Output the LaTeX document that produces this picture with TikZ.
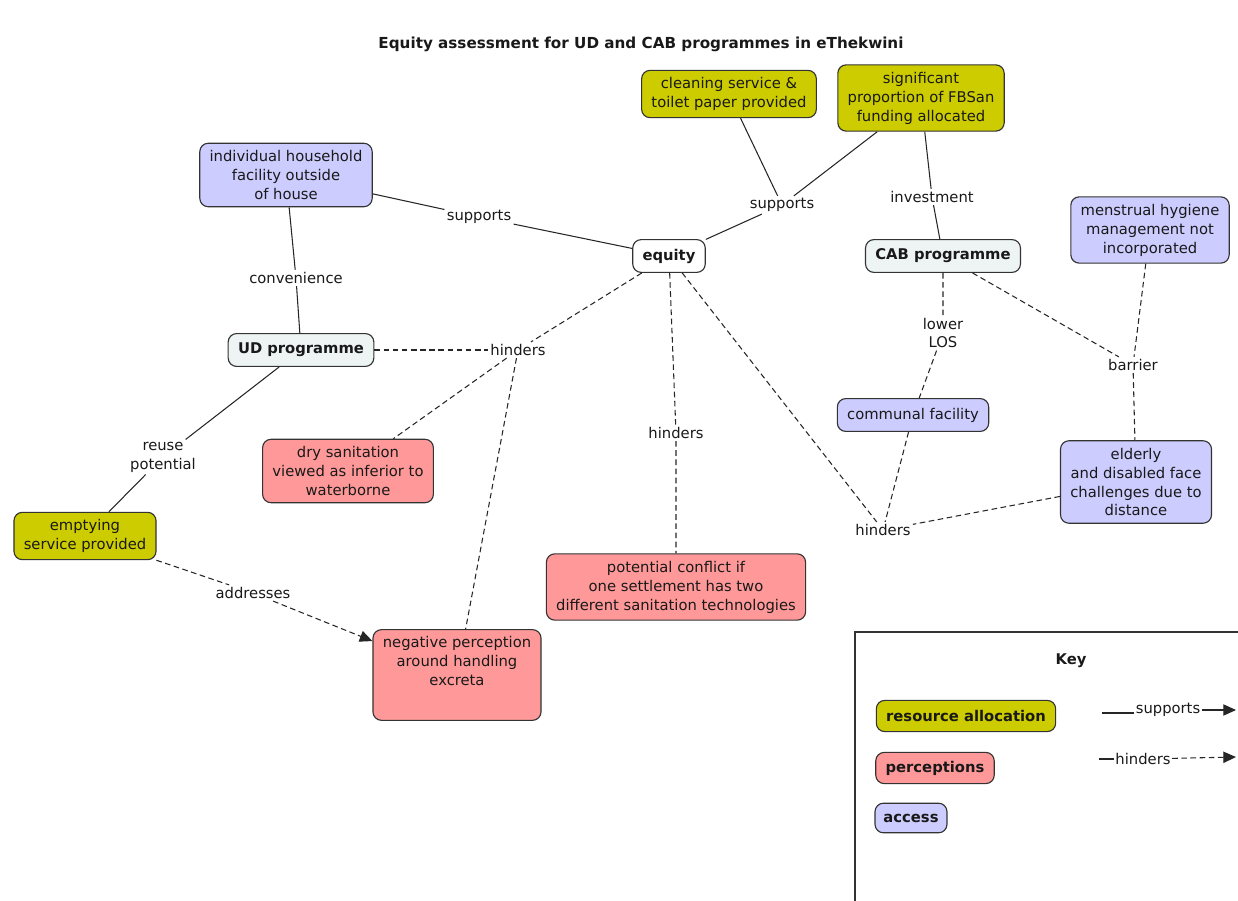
\documentclass[tikz,border=0pt]{standalone}
\usepackage{fontspec}
\setmainfont{DejaVu Sans}
\usetikzlibrary{arrows.meta}
\definecolor{resourcecol}{RGB}{204,204,0}
\definecolor{perceptcol}{RGB}{255,153,153}
\definecolor{accesscol}{RGB}{204,204,255}
\definecolor{progcol}{RGB}{238,244,244}
\begin{document}
\begin{tikzpicture}[
  x=0.025cm, y=-0.025cm,
  every node/.style={font=\fontsize{10.5}{13.5}\selectfont, text=black!90},
  concept/.style={draw=black!80, line width=0.8pt, rounded corners=6pt, align=center, inner xsep=7pt, inner ysep=5pt, minimum height=0.82cm},
  resource/.style={concept, fill=resourcecol},
  percept/.style={concept, fill=perceptcol},
  access/.style={concept, fill=accesscol},
  prog/.style={concept, fill=progcol, font=\fontsize{10.5}{13.5}\selectfont\bfseries},
  lbl/.style={fill=white, inner sep=1.5pt, align=center},
  link/.style={draw=black!85, line width=0.75pt},
  weak/.style={link, dash pattern=on 4pt off 2.5pt},
  tip/.style={-{Triangle[length=9pt, width=8pt]}}
]
\useasboundingbox (0,0) rectangle (1238,901);
\node[font=\fontsize{10.8}{13}\selectfont\bfseries] (title) at (641,44) {Equity assessment for UD and CAB programmes in eThekwini};

\node[concept, fill=white, font=\fontsize{10.5}{13.5}\selectfont\bfseries] (equity) at (669,256) {equity};
\node[prog] (ud) at (301,350) {UD programme};
\node[prog] (cab) at (943,256) {CAB programme};
\node[access] (indiv) at (286,175) {individual household\\facility outside\\of house};
\node[resource] (cleaning) at (729,94) {cleaning service \&\\toilet paper provided};
\node[resource] (funding) at (921,98) {significant\\proportion of FBSan\\funding allocated};
\node[access] (mhm) at (1150,230) {menstrual hygiene\\management not\\incorporated};
\node[access] (communal) at (913,415) {communal facility};
\node[percept] (dry) at (348,471) {dry sanitation\\viewed as inferior to\\waterborne};
\node[access] (elderly) at (1136,482) {elderly\\and disabled face\\challenges due to\\distance};
\node[resource] (emptying) at (85,536) {emptying\\service provided};
\node[percept] (conflict) at (676,587) {potential conflict if\\one settlement has two\\different sanitation technologies};
\node[percept, minimum width=4.15cm, minimum height=2.15cm] (negative) at (457,675) {negative perception\\around handling\\excreta\\[6pt]~};

\node[lbl] (supA) at (479,217) {supports};
\node[lbl] (supB) at (782,205) {supports};
\node[lbl] (conv) at (296,278) {convenience};
\node[lbl] (invest) at (932,197) {investment};
\node[lbl] (hinA) at (518,350) {hinders};
\node[lbl] (hinB) at (676,433) {hinders};
\node[lbl] (hinC) at (883,530) {hinders};
\node[lbl] (los) at (943,333) {lower\\LOS};
\node[lbl] (barrier) at (1133,365) {barrier};
\node[lbl] (reuse) at (163,457) {reuse\\potential};
\node[lbl] (addr) at (253,593) {addresses};

\draw[link] (indiv) -- (supA) -- (equity);
\draw[link] (cleaning) -- (supB);
\draw[link] (funding) -- (supB) -- (equity);
\draw[link] (indiv) -- (conv) -- (ud);
\draw[link] (funding) -- (invest) -- (cab);
\draw[link] (ud) -- (reuse) -- (emptying);
\draw[weak] (ud) -- (hinA);
\draw[weak] (equity) -- (hinA) -- (dry);
\draw[weak] (hinA) -- (negative);
\draw[weak] (equity) -- (hinB) -- (conflict);
\draw[weak] (equity) -- (hinC);
\draw[weak] (communal) -- (hinC);
\draw[weak] (elderly) -- (hinC);
\draw[weak] (cab) -- (los) -- (communal);
\draw[weak] (cab) -- (barrier);
\draw[weak] (mhm) -- (barrier) -- (elderly);
\draw[weak] (emptying) -- (addr);
\draw[weak, tip] (addr) -- (negative);

% key
\coordinate (keyTR) at (1238,632);
\coordinate (keyTL) at (855,632);
\coordinate (keyBL) at (855,901);
\draw[draw=black!80, line width=0.8pt] (keyTR) -- (keyTL) -- (keyBL);
\node[font=\fontsize{10.5}{13}\selectfont\bfseries] (keytitle) at (1071,661) {Key};
\node[resource, font=\fontsize{10.5}{13}\selectfont\bfseries, minimum height=0.78cm] (keyres) at (966,716) {resource allocation};
\node[percept, font=\fontsize{10.5}{13}\selectfont\bfseries, minimum height=0.78cm] (keyper) at (935,768) {perceptions};
\node[access, font=\fontsize{10.5}{13}\selectfont\bfseries, minimum height=0.74cm, inner xsep=6pt] (keyacc) at (911,818) {access};
\node[inner sep=1pt] (keysup) at (1168,710) {supports};
\node[inner sep=1pt] (keyhin) at (1143,759) {hinders};
\coordinate (supS) at (1102,713);
\coordinate (supE) at (1236,710);
\coordinate (hinS) at (1099,759);
\coordinate (hinE) at (1236,757);
\draw[link] (supS) -- (keysup.west |- supS);
\draw[link, tip] (keysup) -- (supE);
\draw[link] (hinS) -- (keyhin);
\draw[weak, tip] (keyhin) -- (hinE);
\end{tikzpicture}
\end{document}
